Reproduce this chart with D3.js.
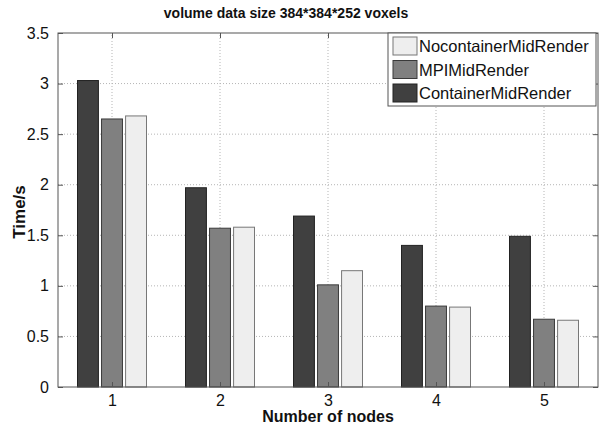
<!DOCTYPE html>
<html>
<head>
<meta charset="utf-8">
<script src="https://d3js.org/d3.v7.min.js"></script>
<style>
  body { margin: 0; background: #fff; }
  text { font-family: "Liberation Sans", Arial, sans-serif; fill: #111; }
</style>
</head>
<body>
<div id="graphic"></div>
<script>
// Chart data
var nodes = [1, 2, 3, 4, 5];
var seriesNames = ['ContainerMidRender', 'MPIMidRender', 'NocontainerMidRender'];
var containerMid = [3.03, 1.97, 1.69, 1.40, 1.49];
var mpiMid = [2.65, 1.57, 1.01, 0.80, 0.67];
var nocontainerMid = [2.68, 1.58, 1.15, 0.79, 0.66];
var yTicks = [0, 0.5, 1, 1.5, 2, 2.5, 3, 3.5];

var colors = {
    'ContainerMidRender': { fill: '#404040', stroke: '#222222' },
    'MPIMidRender': { fill: '#808080', stroke: '#3a3a3a' },
    'NocontainerMidRender': { fill: '#eeeeee', stroke: '#777777' }
};

var width = 600, height = 427;
var margins = { top: 33, right: 2, bottom: 40, left: 58 };

var svg = d3.select('#graphic').append('svg')
    .attr('width', width)
    .attr('height', height);

var x = d3.scaleLinear().domain([0.5, 5.5]).range([margins.left, width - margins.right]);
var y = d3.scaleLinear().domain([0, 3.5]).range([height - margins.bottom, margins.top]);

// offsets of the three bars inside a group (pixels)
var inner = d3.scaleBand().domain(seriesNames).range([-34.5, 34.5]).paddingInner(0.13);

var table = nodes.map(function(n, i) {
    return [
        { node: n, series: 'ContainerMidRender', value: containerMid[i] },
        { node: n, series: 'MPIMidRender', value: mpiMid[i] },
        { node: n, series: 'NocontainerMidRender', value: nocontainerMid[i] }
    ];
});

var x0 = margins.left, x1 = width - margins.right;
var y0 = height - margins.bottom, y1 = margins.top;

// grid lines
var grid = svg.append('g').attr('class', 'grid');
grid.selectAll('line.gy')
    .data(yTicks.slice(1, -1))
    .enter().append('line')
    .attr('x1', x0).attr('x2', x1)
    .attr('y1', function(d) { return y(d); })
    .attr('y2', function(d) { return y(d); })
    .attr('stroke', '#b5b5b5')
    .attr('stroke-dasharray', '1,2');
grid.selectAll('line.gx')
    .data(nodes)
    .enter().append('line')
    .attr('x1', function(d) { return x(d); })
    .attr('x2', function(d) { return x(d); })
    .attr('y1', y0).attr('y2', y1)
    .attr('stroke', '#b5b5b5')
    .attr('stroke-dasharray', '1,2');

// bars
var groups = svg.append('g').selectAll('g')
    .data(table)
    .enter().append('g')
    .attr('transform', function(d) { return 'translate(' + x(d[0].node) + ',0)'; });

groups.selectAll('rect')
    .data(function(d) { return d; })
    .enter().append('rect')
    .attr('x', function(d) { return inner(d.series); })
    .attr('width', inner.bandwidth())
    .attr('y', function(d) { return y(d.value); })
    .attr('height', function(d) { return y(0) - y(d.value); })
    .attr('fill', function(d) { return colors[d.series].fill; })
    .attr('stroke', function(d) { return colors[d.series].stroke; })
    .attr('stroke-width', 1);

// axes (matlab style box with inward ticks)
var axisLeft = d3.axisLeft(y).tickValues(yTicks).tickSize(-5).tickPadding(9)
    .tickFormat(function(d) { return d; });
var axisBottom = d3.axisBottom(x).tickValues(nodes).tickSize(-5).tickPadding(8)
    .tickFormat(d3.format('d'));
var axisRight = d3.axisRight(y).tickValues(yTicks).tickSize(-5).tickFormat('');
var axisTop = d3.axisTop(x).tickValues(nodes).tickSize(-5).tickFormat('');

function styleAxis(g) {
    g.select('.domain').remove();
    g.selectAll('.tick line').attr('stroke', '#555');
    g.selectAll('.tick text')
        .attr('fill', '#111')
        .style('font-family', '"Liberation Sans", Arial, sans-serif')
        .style('font-size', '16px');
}

svg.append('g').attr('transform', 'translate(' + x0 + ',0)').call(axisLeft).call(styleAxis);
svg.append('g').attr('transform', 'translate(0,' + y0 + ')').call(axisBottom).call(styleAxis);
svg.append('g').attr('transform', 'translate(' + x1 + ',0)').call(axisRight).call(styleAxis);
svg.append('g').attr('transform', 'translate(0,' + y1 + ')').call(axisTop).call(styleAxis);

svg.append('rect')
    .attr('x', x0).attr('y', y1)
    .attr('width', x1 - x0).attr('height', y0 - y1)
    .attr('fill', 'none')
    .attr('stroke', '#555');

// titles
svg.append('text')
    .attr('x', 286).attr('y', 18)
    .attr('text-anchor', 'middle')
    .style('font-size', '14px')
    .style('font-weight', 'bold')
    .text('volume data size 384*384*252 voxels');

svg.append('text')
    .attr('x', 328).attr('y', 422)
    .attr('text-anchor', 'middle')
    .style('font-size', '16px')
    .style('font-weight', 'bold')
    .text('Number of nodes');

svg.append('text')
    .attr('transform', 'translate(25,' + 212 + ') rotate(-90)')
    .attr('text-anchor', 'middle')
    .style('font-size', '17px')
    .style('font-weight', 'bold')
    .text('Time/s');

// legend
var legendOrder = seriesNames.slice().reverse();
var legend = svg.append('g').attr('transform', 'translate(388,33)');
legend.append('rect')
    .attr('width', 208).attr('height', 73)
    .attr('fill', '#fff')
    .attr('stroke', '#555');
var items = legend.selectAll('g.item')
    .data(legendOrder)
    .enter().append('g')
    .attr('transform', function(d, i) { return 'translate(5,' + (4 + i * 23.5) + ')'; });
items.append('rect')
    .attr('width', 24).attr('height', 18)
    .attr('fill', function(d) { return colors[d].fill; })
    .attr('stroke', function(d) { return colors[d].stroke; });
items.append('text')
    .attr('x', 26).attr('y', 15)
    .style('font-size', '16.5px')
    .text(function(d) { return d; });
</script>
</body>
</html>
